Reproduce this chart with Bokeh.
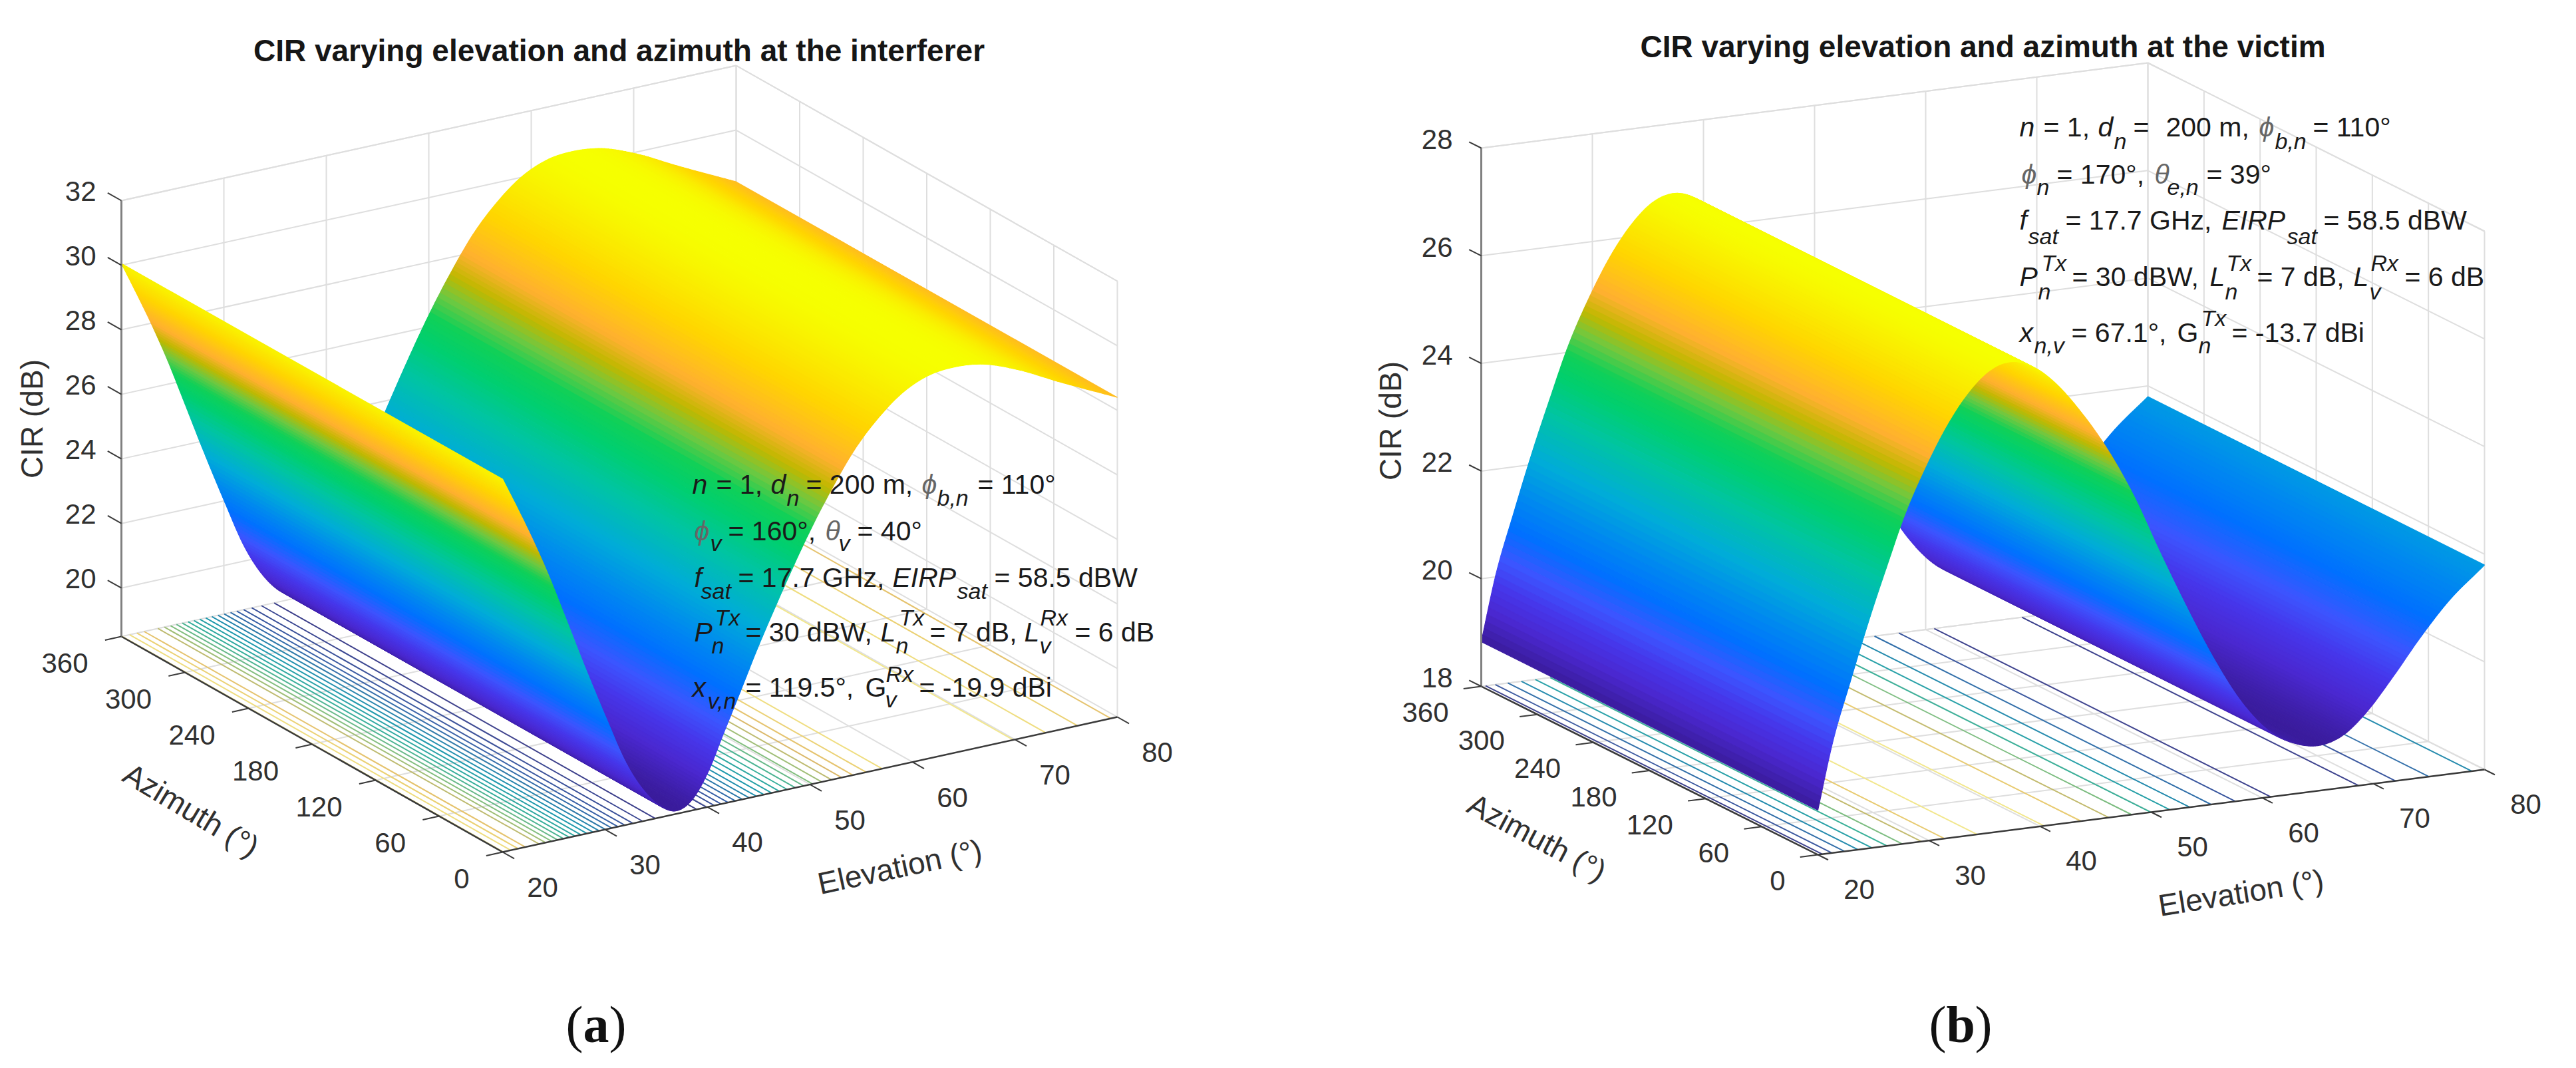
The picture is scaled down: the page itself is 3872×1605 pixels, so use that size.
from bokeh.plotting import figure
from bokeh.models import Range1d, ColumnDataSource
from bokeh.embed import file_html
from bokeh.resources import INLINE
from bokeh.core.properties import value
import numpy as np

# ---------- data ----------
ELEV_A = [20, 21.3, 22.9, 24.5, 26, 28, 30.1, 32, 34, 35.6, 36.8, 38.4, 40, 41.6, 43.2, 44.7, 46.4, 48.1, 49.9,
          52.3, 54.3, 56.7, 59, 61.4, 64.2, 66.8, 70.2, 74.2, 80]
CIR_A = [30.05, 29.15, 28.0, 26.75, 25.45, 23.7, 21.95, 20.45, 19.35, 18.8, 18.6, 18.8, 19.55, 20.7, 21.85, 22.95,
         24.1, 25.2, 26.3, 27.6, 28.55, 29.4, 30.0, 30.35, 30.45, 30.35, 29.95, 29.3, 28.4]
ELEV_B = [20, 21.3, 22.9, 24.7, 26.3, 27.7, 29.8, 31.8, 33.8, 35.4, 37.4, 39.6, 41.5, 43.5, 45.9, 48.4, 50.8,
          53.2, 55.7, 58.1, 60.6, 63, 65, 67.4, 69.4, 71.8, 74.2, 76.7, 80]
CIR_B = [18.83, 20.03, 21.13, 22.3, 23.25, 24.05, 25.0, 25.74, 26.29, 26.58, 26.7, 26.52, 26.17, 25.65, 24.9,
         23.93, 22.8, 21.72, 20.68, 19.84, 19.23, 18.93, 18.84, 18.99, 19.35, 19.95, 20.6, 21.2, 21.8]
ELEV_TICKS = [20, 30, 40, 50, 60, 70, 80]
AZ_TICKS = [0, 60, 120, 180, 240, 300, 360]
Z_TICKS_A = [20, 22, 24, 26, 28, 30, 32]
Z_TICKS_B = [18, 20, 22, 24, 26, 28]
LEVELS_A = [19 + 0.5 * i for i in range(23)]
LEVELS_B = [19.2 + 0.8 * i for i in range(10)]
TITLE_A = "CIR varying elevation and azimuth at the interferer"
TITLE_B = "CIR varying elevation and azimuth at the victim"

# ---------- camera of each panel (reference pixels) ----------
CAM_A = dict(F=(763, 1288), E=(924, -203), A=(-573, -324), Z=-655, zlo=18.5, zhi=32)
CAM_B = dict(F=(2740, 1292), E=(1002, -128), A=(-506, -253), Z=-809, zlo=18, zhi=28)

STOPS = [(0.0, "#3a1c9c"), (0.07, "#4a28d0"), (0.13, "#4636ea"), (0.19, "#3c55ff"), (0.26, "#0070ff"),
         (0.33, "#0088f0"), (0.42, "#00acd8"), (0.52, "#00c4a4"), (0.60, "#00cf70"), (0.655, "#10d058"),
         (0.705, "#70c840"), (0.75, "#c0b800"), (0.80, "#ffb030"), (0.885, "#ffd500"), (1.0, "#f6ff00")]
LINE_STOPS = [(0.0, "#3f3a86"), (0.2, "#3a62a8"), (0.4, "#1f98b0"), (0.55, "#38b09a"), (0.68, "#8cc07c"),
              (0.8, "#e0b868"), (0.9, "#eed878"), (1.0, "#f4f09c")]


def hexrgb(h):
    return np.array([int(h[i:i + 2], 16) for i in (1, 3, 5)], float)


def cmap(t, stops):
    ts = [s[0] for s in stops]
    cs = np.array([hexrgb(s[1]) for s in stops])
    rgb = [int(round(np.interp(t, ts, cs[:, k]))) for k in range(3)]
    return "#%02x%02x%02x" % tuple(rgb)


def proj(cam, el, az, z):
    u = (np.asarray(el, float) - 20) / 60
    v = np.asarray(az, float) / 360
    w = (np.asarray(z, float) - cam["zlo"]) / (cam["zhi"] - cam["zlo"])
    return (cam["F"][0] + u * cam["E"][0] + v * cam["A"][0],
            cam["F"][1] + u * cam["E"][1] + v * cam["A"][1] + w * cam["Z"])


def smooth(ex, zs, sub=10):
    """Shading between the read values: Hermite segments through them."""
    ex, zs = np.array(ex, float), np.array(zs, float)
    m = np.gradient(zs, ex)
    outx, outz = [], []
    for i in range(len(ex) - 1):
        h = ex[i + 1] - ex[i]
        for s in np.arange(sub) / sub:
            a = 2 * s**3 - 3 * s**2 + 1
            b = s**3 - 2 * s**2 + s
            c = -2 * s**3 + 3 * s**2
            d = s**3 - s**2
            outx.append(ex[i] + s * h)
            outz.append(a * zs[i] + b * h * m[i] + c * zs[i + 1] + d * h * m[i + 1])
    outx.append(ex[-1])
    outz.append(zs[-1])
    return np.array(outx), np.array(outz)


p = figure(width=3856, height=1589, x_range=Range1d(8, 3864), y_range=Range1d(1597, 8),
           output_backend="svg", toolbar_location=None, min_border=0,
           x_axis_location=None, y_axis_location=None)
p.grid.visible = False
p.outline_line_color = None
p.background_fill_color = "white"

GRID = "#dedede"
AXIS = "#3a3a3a"
TEXT = "#303030"


def segs(cam, items, color, width):
    x0, y0, x1, y1 = [], [], [], []
    for a, b in items:
        xa, ya = proj(cam, *a)
        xb, yb = proj(cam, *b)
        x0.append(float(xa)); y0.append(float(ya)); x1.append(float(xb)); y1.append(float(yb))
    p.segment(x0, y0, x1, y1, line_color=color, line_width=width)


def labels(rows, size, font="Liberation Sans", style="normal", color=TEXT, align="left",
           baseline="alphabetic", angle=0):
    p.text([r[1] for r in rows], [r[2] for r in rows], text=[r[0] for r in rows],
           text_font=value(font), text_font_size=value(f"{size}px"), text_font_style=style,
           text_color=color, text_align=align, text_baseline=baseline, angle=angle, angle_units="deg")


def panel(cam, ex, zs, zticks, levels, zoff, azoff, eloff, cir, azlabel, ellabel, title, title_xy):
    zlo, zhi = cam["zlo"], cam["zhi"]
    grid = []
    for e in ELEV_TICKS:
        grid.append(((e, 0, zlo), (e, 360, zlo)))
        grid.append(((e, 360, zlo), (e, 360, zhi)))
    for a in AZ_TICKS:
        grid.append(((20, a, zlo), (80, a, zlo)))
        grid.append(((80, a, zlo), (80, a, zhi)))
    for z in zticks:
        grid.append(((20, 360, z), (80, 360, z)))
        grid.append(((80, 360, z), (80, 0, z)))
    grid.append(((20, 360, zhi), (80, 360, zhi)))
    grid.append(((80, 360, zhi), (80, 0, zhi)))
    segs(cam, grid, GRID, 2)

    fx, fz = smooth(ex, zs)
    lo, hi = fz.min(), fz.max()

    # contour lines on the floor
    for lev in levels:
        t = (lev - lo) / (hi - lo)
        crossings = []
        for i in range(len(fx) - 1):
            if (fz[i] - lev) * (fz[i + 1] - lev) < 0:
                crossings.append(fx[i] + (lev - fz[i]) / (fz[i + 1] - fz[i]) * (fx[i + 1] - fx[i]))
        if crossings:
            segs(cam, [((c, 0, zlo), (c, 360, zlo)) for c in crossings], cmap(t, LINE_STOPS), 2)

    # surface, far strips first
    xs, ys, cols = [], [], []
    for i in range(len(fx) - 2, -1, -1):
        ee = [fx[i], fx[i + 1], fx[i + 1], fx[i]]
        aa = [0, 0, 360, 360]
        zz = [fz[i], fz[i + 1], fz[i + 1], fz[i]]
        px, py = proj(cam, ee, aa, zz)
        xs.append(px.tolist())
        ys.append(py.tolist())
        cols.append(cmap((0.5 * (fz[i] + fz[i + 1]) - lo) / (hi - lo), STOPS))
    p.patches("xs", "ys", source=ColumnDataSource(dict(xs=xs, ys=ys, c=cols)),
              fill_color="c", line_color="c", line_width=1.2)

    # axes and ticks
    floor_axes = [((20, 0, zlo), (80, 0, zlo)), ((20, 0, zlo), (20, 360, zlo))]
    ticks = []
    for e in ELEV_TICKS:
        ticks.append(((e, 0, zlo), (e, -11, zlo)))
    for a in AZ_TICKS:
        ticks.append(((20, a, zlo), (18.4, a, zlo)))
    for z in zticks:
        ticks.append(((20, 360, z), (20, 373, z)))
    segs(cam, floor_axes, AXIS, 2.5)
    segs(cam, [((20, 360, zlo), (20, 360, zhi))], "#808080", 3)
    segs(cam, ticks, AXIS, 2)

    rows = []
    for e in ELEV_TICKS:
        x, y = proj(cam, e, 0, zlo)
        rows.append((str(e), float(x) + eloff[0], float(y) + eloff[1]))
    labels(rows, 42, align="center", baseline="middle")
    rows = []
    for a in AZ_TICKS:
        x, y = proj(cam, 20, a, zlo)
        rows.append((str(a), float(x) + azoff[0], float(y) + azoff[1]))
    labels(rows, 42, align="right", baseline="middle")
    rows = []
    for z in zticks:
        x, y = proj(cam, 20, 360, z)
        rows.append((str(z), float(x) + zoff[0], float(y) + zoff[1]))
    labels(rows, 42, align="right", baseline="middle")

    labels([("CIR (dB)", cir[0], cir[1])], 46, align="center", baseline="middle", angle=90)
    labels([("Azimuth (°)", azlabel[0], azlabel[1])], 46, align="center", baseline="middle", angle=-azlabel[2])
    labels([("Elevation (°)", ellabel[0], ellabel[1])], 46, align="center", baseline="middle", angle=ellabel[2])
    labels([(title, title_xy[0], title_xy[1])], 46, style="bold", color="#161616", align="center", baseline="middle")


panel(CAM_A, ELEV_A, CIR_A, Z_TICKS_A, LEVELS_A, (-38, -14), (-50, 40), (60, 53),
      (55, 637), (295, 1225, 31), (1360, 1310, 12), TITLE_A, (938, 83))
panel(CAM_B, ELEV_B, CIR_B, Z_TICKS_B, LEVELS_B, (-43, -13), (-49, 39), (62, 52),
      (2097, 640), (2318, 1266, 28), (3376, 1349, 9), TITLE_B, (2988, 77))

# ---------- annotations: (text, x, baseline y) ----------
NOTE_UP_A = [("= 1,", 1084, 735), ("= 200 m,", 1219, 735), ("= 110°", 1477, 735),
             ("= 160°,", 1102, 805), ("= 40°", 1296, 805),
             ("= 17.7 GHz,", 1117, 875), ("= 58.5 dBW", 1502, 875),
             ("= 30 dBW,", 1128, 957), ("= 7 dB,", 1405, 957), ("= 6 dB", 1623, 957),
             ("= 119.5°,", 1128, 1040), ("G", 1308, 1040), ("= -19.9 dBi", 1389, 1040)]
NOTE_IT_A = [("n", 1048, 735), ("d", 1166, 735),
             ("f", 1051, 875), ("EIRP", 1349, 875),
             ("P", 1051, 957), ("L", 1331, 957), ("L", 1547, 957),
             ("x", 1048, 1040)]
NOTE_GREEK_A = [("ϕ", 1393, 735), ("ϕ", 1051, 805), ("θ", 1248, 805)]
NOTE_SUB_A = [("n", 1190, 755), ("b,n", 1416, 755), ("v", 1075, 823), ("v", 1268, 823),
              ("sat", 1061, 895), ("sat", 1446, 895),
              ("Tx", 1082, 935), ("n", 1077, 977), ("Tx", 1359, 935), ("n", 1354, 977),
              ("Rx", 1571, 935), ("v", 1570, 977),
              ("v,n", 1071, 1060), ("Rx", 1339, 1020), ("v", 1338, 1058)]
NOTE_UP_B = [("= 1,", 3079, 198), ("=", 3214, 198), ("200 m,", 3263, 198), ("= 110°", 3484, 198),
             ("= 170°,", 3099, 269), ("= 39°", 3324, 269),
             ("= 17.7 GHz,", 3112, 338), ("= 58.5 dBW", 3500, 338),
             ("= 30 dBW,", 3122, 423), ("= 7 dB,", 3400, 423), ("= 6 dB", 3622, 423),
             ("= 67.1°,", 3121, 507), ("G", 3280, 507), ("= -13.7 dBi", 3362, 507)]
NOTE_IT_B = [("n", 3043, 198), ("d", 3161, 198),
             ("f", 3043, 338), ("EIRP", 3347, 338),
             ("P", 3043, 423), ("L", 3329, 423), ("L", 3545, 423),
             ("x", 3043, 507)]
NOTE_GREEK_B = [("ϕ", 3403, 198), ("ϕ", 3046, 269), ("θ", 3246, 269)]
NOTE_SUB_B = [("n", 3185, 219), ("b,n", 3427, 219), ("n", 3069, 288), ("e,n", 3265, 288),
              ("sat", 3056, 362), ("sat", 3445, 362),
              ("Tx", 3076, 402), ("n", 3071, 445), ("Tx", 3354, 402), ("n", 3352, 445),
              ("Rx", 3571, 402), ("v", 3569, 445),
              ("n,v", 3065, 526), ("Tx", 3316, 485), ("n", 3312, 526)]

for rows in (NOTE_UP_A, NOTE_UP_B):
    labels(rows, 41, color="#1a1a1a")
for rows in (NOTE_IT_A, NOTE_IT_B):
    labels(rows, 41, style="italic", color="#1a1a1a")
for rows in (NOTE_GREEK_A, NOTE_GREEK_B):
    labels(rows, 41, style="italic", color="#666666")
for rows in (NOTE_SUB_A, NOTE_SUB_B):
    labels(rows, 34, style="italic", color="#1a1a1a")

# ---------- panel letters ----------
labels([("(", 858, 1547), (")", 923, 1547), ("(", 2907, 1547), (")", 2976, 1547)], 78,
       font="Liberation Serif", color="#111111")
labels([("a", 884, 1547), ("b", 2933, 1547)], 78, font="Liberation Serif", style="bold", color="#111111")

open("out.html", "w").write(file_html(p, INLINE))
